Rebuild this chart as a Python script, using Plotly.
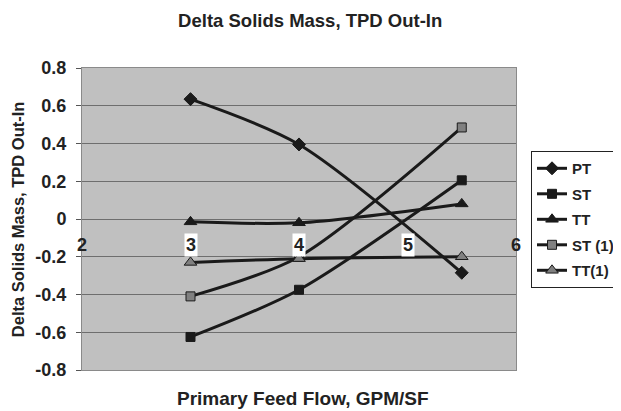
import plotly.graph_objects as go

flow = [3, 4, 5.5]
pt = [0.635, 0.395, -0.285]
st = [-0.625, -0.375, 0.205]
tt = [-0.015, -0.02, 0.08]
st1 = [-0.41, -0.2, 0.485]
tt1 = [-0.23, -0.21, -0.2]

x_ticks = [2, 3, 4, 5, 6]
y_ticks = [-0.8, -0.6, -0.4, -0.2, 0, 0.2, 0.4, 0.6, 0.8]

FONT = "Arial, Liberation Sans, sans-serif"
INK = "#222222"
LINE = "#1a1a1a"
GRAY = "#808080"

series = [
    ("PT", pt, "diamond", LINE, 10),
    ("ST", st, "square", LINE, 9),
    ("TT", tt, "triangle-up", LINE, 11),
    ("ST (1)", st1, "square", GRAY, 9),
    ("TT(1)", tt1, "triangle-up", GRAY, 11),
]

fig = go.Figure()
for name, vals, sym, col, size in series:
    fig.add_scatter(
        x=flow, y=vals, name=f"<b>{name}</b>", legendgroup=name, mode="lines+markers",
        line=dict(color=LINE, width=3, shape="spline", smoothing=0.8),
        marker=dict(symbol=sym, color=col, size=size, line=dict(color=LINE, width=1)),
    )

# x tick labels sit just under the zero line, in white boxes inside the plot
for t in x_ticks:
    fig.add_annotation(
        x=t, y=0, text=f"<b>{t}</b>", showarrow=False, yshift=-26,
        bgcolor="white" if 2 < t < 6 else "rgba(0,0,0,0)", borderpad=1,
        font=dict(size=18),
    )

# axis titles
fig.add_annotation(
    x=0.509, y=-0.093, xref="paper", yref="paper", xanchor="center", yanchor="middle",
    text="<b>Primary Feed Flow, GPM/SF</b>", showarrow=False, font=dict(size=19),
)
fig.add_annotation(
    x=-0.147, y=0.5, xref="paper", yref="paper", xanchor="center", yanchor="middle",
    textangle=-90, text="<b>Delta Solids Mass, TPD Out-In</b>", showarrow=False,
    font=dict(size=16.5),
)

# page body has an 8px margin, so the figure is 8px smaller than the window
fig.update_layout(
    width=613, height=403,
    paper_bgcolor="white", plot_bgcolor="#c0c0c0",
    margin=dict(l=74, r=105, t=60, b=41, autoexpand=False),
    font=dict(family=FONT, size=15, color=INK),
    title=dict(text="<b>Delta Solids Mass, TPD Out-In</b>", x=0.493, xanchor="center",
               y=0.968, yanchor="middle", font=dict(size=18.5)),
    legend=dict(x=1.0346, y=0.725, xanchor="left", yanchor="top",
                bordercolor=INK, borderwidth=1, bgcolor="white",
                font=dict(size=15), tracegroupgap=3, itemwidth=30),
    showlegend=True,
)
fig.update_xaxes(
    range=[2, 6], tickvals=x_ticks, showticklabels=False, showgrid=False,
    zeroline=False, showline=True, linecolor="#8a8a8a", mirror=True, automargin=False,
)
fig.update_yaxes(
    range=[-0.8, 0.8], tickvals=y_ticks, ticktext=[f"<b>{v:g}</b>" for v in y_ticks],
    tickfont=dict(size=18), showgrid=True, gridcolor="#6e6e6e", gridwidth=1,
    zeroline=True, zerolinecolor="#6e6e6e", zerolinewidth=1,
    showline=True, linecolor="#8a8a8a", mirror=True, ticks="outside",
    ticklen=5, tickcolor="#555", ticklabelstandoff=6, automargin=False,
)

fig.write_html("out.html")
